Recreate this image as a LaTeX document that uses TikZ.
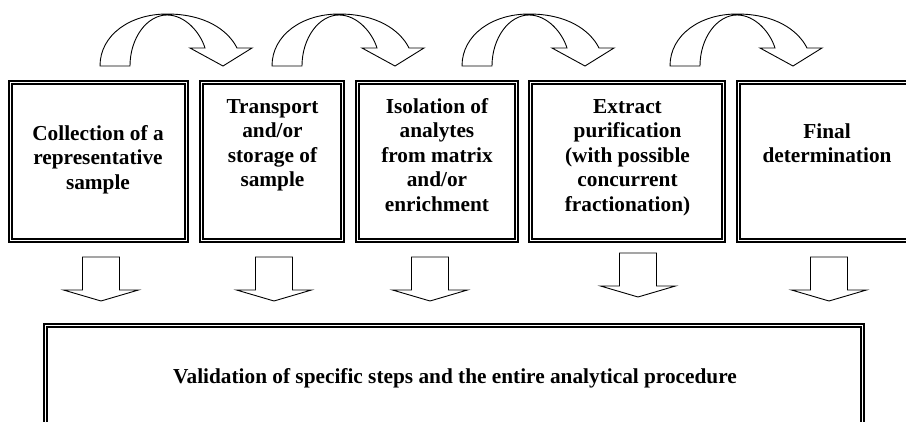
\documentclass[tikz,border=0pt]{standalone}
\usepackage{fontspec}
\setmainfont{Liberation Serif}
\usetikzlibrary{calc}
\tikzset{
  boxouter/.style={draw, line width=1.1pt, inner sep=0pt, minimum height=161pt},
  boxinner/.style={draw, line width=2pt},
  lbl/.style={font=\bfseries\fontsize{21.3}{24.5}\selectfont, align=center, inner sep=0pt, anchor=north},
  blockarrow/.style={draw, line width=0.9pt, fill=white, line join=miter},
  curvearrow/.pic={
    \draw[blockarrow] (0,0) .. controls (0,-31) and (30,-52) .. (67,-52)
      .. controls (105,-52) and (128,-36) .. (137,-18)
      -- (152,-18) -- (123,0) -- (90,-18) -- (105,-18)
      .. controls (100,-34) and (85,-51) .. (67,-51)
      .. controls (47,-51) and (30,-28) .. (30,0) -- cycle;
  },
  downarrow/.pic={
    \draw[blockarrow] (-18.5,0) -- (18.5,0) -- (18.5,33) -- (37.5,33) -- (0,44)
      -- (-37.5,33) -- (-18.5,33) -- cycle;
  }
}
\begin{document}
\begin{tikzpicture}[x=1pt,y=-1pt]
\useasboundingbox (0,0) rectangle (906,422);
\clip (0,0) rectangle (906,422);
\fill[white] (0,0) rectangle (906,422);

% step boxes
\node[boxouter, minimum width=179pt] (b1) at (98.5,161.5) {};
\node[boxouter, minimum width=144pt] (b2) at (272,161.5) {};
\node[boxouter, minimum width=162pt] (b3) at (437,161.5) {};
\node[boxouter, minimum width=196pt] (b4) at (627,161.5) {};
\node[boxouter, minimum width=180pt] (b5) at (827,161.5) {};
\node[boxouter, minimum width=820pt, minimum height=116pt] (v) at (454,382) {};
\foreach \b in {b1,b2,b3,b4,b5,v}
  \draw[boxinner] ([shift={(4,4)}]\b.north west) rectangle ([shift={(-4,-4)}]\b.south east);

% texts
\node[lbl] (t1) at (98,122.85) {\strut Collection of a\\representative\\sample};
\node[lbl] (t2) at (272.5,95.85) {\strut Transport\\and/or\\storage of\\sample};
\node[lbl] (t3) at (437,95.85) {\strut Isolation of\\analytes\\from matrix\\and/or\\enrichment};
\node[lbl] (t4) at (627.5,95.85) {\strut Extract\\purification\\(with possible\\concurrent\\fractionation)};
\node[lbl] (t5) at (827,120.85) {\strut Final\\determination};
\node[lbl] (t6) at (455,365.85) {\strut Validation of specific steps and the entire analytical procedure};

% curved block arrows between steps
\pic at (100,66) {curvearrow};
\pic at (272,66) {curvearrow};
\pic at (462,66) {curvearrow};
\pic at (670,66) {curvearrow};

% down block arrows to validation
\pic at (101,257) {downarrow};
\pic at (274,257) {downarrow};
\pic at (430,257) {downarrow};
\pic at (638,253) {downarrow};
\pic at (829,257) {downarrow};
\end{tikzpicture}
\end{document}
